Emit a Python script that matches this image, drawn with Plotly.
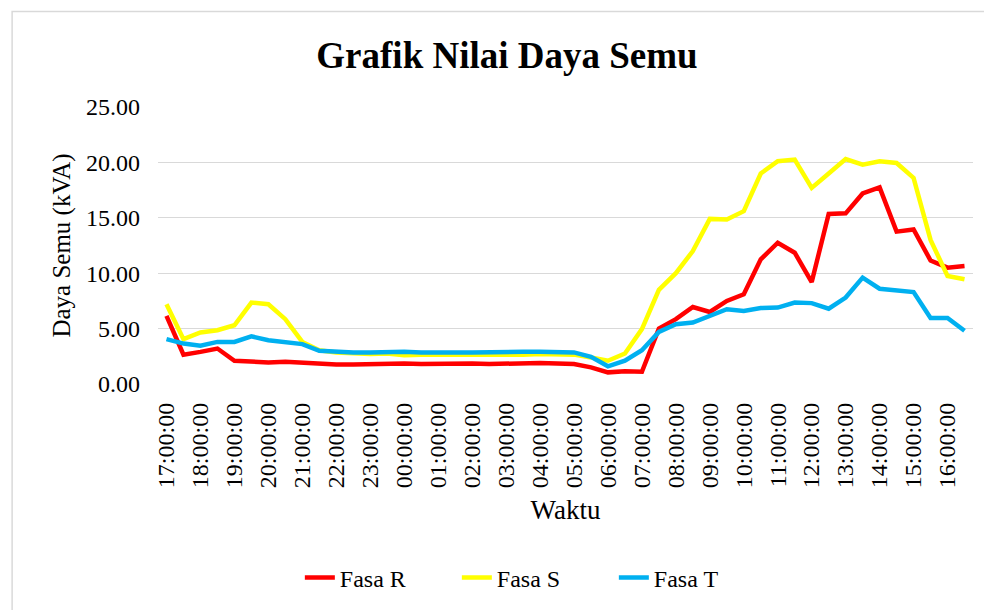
import plotly.graph_objects as go

times = []
for k in range(48):
    total = 17 * 60 + 30 * k
    h = (total // 60) % 24
    m = total % 60
    times.append(f"{h:02d}:{m:02d}:00")

fasa_r = [6.15, 2.65, 2.9, 3.2, 2.1, 2.0, 1.95, 2.0, 1.9, 1.85,
          1.75, 1.75, 1.8, 1.8, 1.85, 1.8, 1.85, 1.8, 1.85, 1.8,
          1.85, 1.85, 1.9, 1.85, 1.8, 1.5, 1.05, 1.15, 1.1, 5.0,
          5.85, 6.95, 6.5, 7.5, 8.1, 11.25, 12.75, 11.85, 9.2, 15.35,
          15.4, 17.2, 17.75, 13.75, 13.95, 11.15, 10.5, 10.65]

fasa_s = [7.2, 4.05, 4.65, 4.85, 5.3, 7.35, 7.2, 5.85, 3.8, 3.05,
          2.85, 2.75, 2.7, 2.75, 2.6, 2.65, 2.65, 2.55, 2.6, 2.65,
          2.6, 2.65, 2.7, 2.7, 2.65, 2.4, 2.1, 2.75, 4.95, 8.5,
          10.0, 12.0, 14.9, 14.85, 15.6, 19.0, 20.1, 20.25, 17.7, 19.0,
          20.3, 19.8, 20.1, 19.95, 18.6, 13.0, 9.75, 9.45]

fasa_t = [4.05, 3.65, 3.45, 3.8, 3.8, 4.3, 3.95, 3.8, 3.6, 3.0,
          2.9, 2.85, 2.85, 2.9, 2.9, 2.85, 2.9, 2.85, 2.85, 2.9,
          2.9, 2.9, 2.9, 2.9, 2.85, 2.45, 1.6, 2.1, 3.05, 4.7,
          5.4, 5.55, 6.15, 6.75, 6.6, 6.85, 6.9, 7.35, 7.3, 6.8,
          7.8, 9.6, 8.6, 8.4, 8.3, 5.95, 5.95, 4.8]

series = [("Fasa R", fasa_r, "#FF0000"),
          ("Fasa S", fasa_s, "#FFFF00"),
          ("Fasa T", fasa_t, "#00B0F0")]

FONT = "Times New Roman, Liberation Serif, serif"
W, H = 984, 602  # page body has an 8px margin

fig = go.Figure()
for name, vals, col in series:
    fig.add_trace(go.Scatter(x=times, y=vals, name=name, mode="lines",
                             line=dict(color=col, width=4.5)))

fig.update_layout(
    width=W, height=H,
    margin=dict(l=150, r=19, t=99, b=225),
    paper_bgcolor="white", plot_bgcolor="white",
    font=dict(family=FONT, size=24, color="black"),
    title=dict(text="<b>Grafik Nilai Daya Semu</b>", x=499 / W, xanchor="center",
               y=1 - 47 / H, yanchor="middle",
               font=dict(family=FONT, size=37, color="black")),
    legend=dict(orientation="h", x=0.463, xanchor="center", y=-0.694, yanchor="middle",
                font=dict(family=FONT, size=24, color="black"),
                entrywidth=112, entrywidthmode="pixels", tracegroupgap=0),
    showlegend=True,
)

fig.update_xaxes(type="category", range=[-0.5, 47.5],
                 tickmode="linear", tick0=0, dtick=2,
                 tickangle=-90, showgrid=False, showline=False,
                 zeroline=False, ticks="", ticklabelstandoff=13,
                 tickfont=dict(family=FONT, size=24, color="black"),
                 title=dict(text="Waktu", standoff=12,
                            font=dict(family=FONT, size=27, color="black")))

fig.update_yaxes(range=[0, 25], tickmode="linear", tick0=0, dtick=5,
                 tickformat=".2f", showgrid=True, gridcolor="#D9D9D9",
                 gridwidth=1.3, showline=False, zeroline=False, ticks="",
                 ticklabelstandoff=17,
                 tickfont=dict(family=FONT, size=24, color="black"),
                 title=dict(text="Daya Semu (kVA)", standoff=8,
                            font=dict(family=FONT, size=25, color="black")))

fig.add_shape(type="rect", xref="paper", yref="paper",
              x0=-0.179, y0=1.345, x1=1.06, y1=-0.95,
              line=dict(color="#D9D9D9", width=1.5), layer="below")

fig.write_html("out.html")
